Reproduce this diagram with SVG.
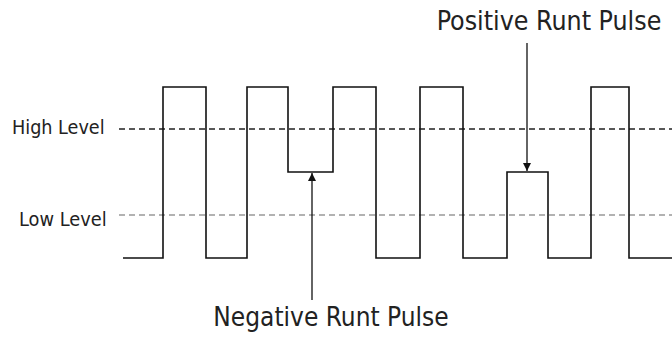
<svg xmlns="http://www.w3.org/2000/svg" width="672" height="342" viewBox="0 0 672 342">
<style>
.lbl{font-family:"DejaVu Sans Condensed","DejaVu Sans",sans-serif;fill:#222}
.wave{fill:none;stroke:#111;stroke-width:1.6}
.hi{stroke:#222;stroke-width:1.3;stroke-dasharray:6 4}
.lo{stroke:#999;stroke-width:1.3;stroke-dasharray:6 4}
.arr{stroke:#111;stroke-width:1.3;fill:none}
</style>
<defs>
<marker id="ah" viewBox="0 0 10 10" refX="10" refY="5" markerWidth="12" markerHeight="8" markerUnits="userSpaceOnUse" orient="auto">
<path d="M0,0 L10,5 L0,10 z" fill="#111"/>
</marker>
</defs>
<rect width="672" height="342" fill="#fff"/>
<g id="levels">
<line class="hi" x1="119" y1="129" x2="672" y2="129"/>
<line class="lo" x1="119" y1="215" x2="672" y2="215"/>
<text class="lbl" x="12" y="134" font-size="19.6">High Level</text>
<text class="lbl" x="19" y="226" font-size="19.8">Low Level</text>
</g>
<g id="waveform">
<path class="wave" d="M123,258 H163 V87 H206 V258 H247 V87 H288 V172 H333 V87 H376 V258 H420 V87 H463 V258 H507 V172 H548 V258 H591 V87 H629 V258 H672"/>
</g>
<g id="connectors">
<line class="arr" x1="312" y1="300" x2="312" y2="173" marker-end="url(#ah)"/>
<line class="arr" x1="527" y1="43" x2="527" y2="171" marker-end="url(#ah)"/>
</g>
<g id="positive-label">
<text class="lbl" x="549" y="30" font-size="26.5" text-anchor="middle">Positive Runt Pulse</text>
</g>
<g id="negative-label">
<text class="lbl" x="331" y="326" font-size="26" text-anchor="middle">Negative Runt Pulse</text>
</g>
</svg>
